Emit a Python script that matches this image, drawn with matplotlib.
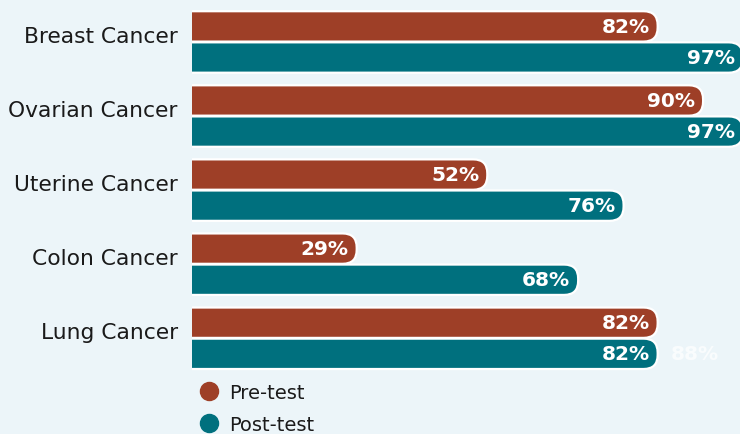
import matplotlib.pyplot as plt
from matplotlib.patches import FancyBboxPatch
from matplotlib.lines import Line2D

categories = ['Breast Cancer', 'Ovarian Cancer', 'Uterine Cancer', 'Colon Cancer', 'Lung Cancer']
pre_test = [82, 90, 52, 29, 82]
post_test = [97, 97, 76, 68, 82]
post_labels = ['97%', '97%', '76%', '68%', '82%']
ghost_label = '88%'

bg = '#ECF5F9'
c_pre = '#9E3F27'
c_post = '#00707E'

fig = plt.figure(figsize=(7.4, 4.35), dpi=100, facecolor=bg)
ax = fig.add_axes([0.2595, 1 - 380 / 435, 1 - 0.2595, 380 / 435])
ax.set_facecolor(bg)
ax.set_xlim(0, 96.5)
ax.set_ylim(4.55, -0.58)
for s in ax.spines.values():
    s.set_visible(False)
ax.set_xticks([])
ax.set_yticks([])

# aspect for the round ends (px per x unit / px per y unit)
p0 = ax.transData.transform((0, 0))
p1 = ax.transData.transform((1, 1))
aspect = abs(p1[0] - p0[0]) / abs(p1[1] - p0[1])
r = 14 / abs(p1[0] - p0[0])

h = 0.41
off = 0.21
for i, cat in enumerate(categories):
    for val, yc, col in [(pre_test[i], i - off, c_pre), (post_test[i], i + off, c_post)]:
        box = FancyBboxPatch((-10, yc - h / 2), val + 10, h,
                             boxstyle='round,pad=0,rounding_size=%f' % r,
                             mutation_aspect=aspect,
                             facecolor=col, edgecolor='white', linewidth=1.6)
        ax.add_patch(box)
    ax.text(pre_test[i] - 1.4, i - off, '%d%%' % pre_test[i], color='white', fontsize=14.5,
            fontweight='bold', ha='right', va='center')
    ax.text(post_test[i] - 1.4, i + off, post_labels[i], color='white', fontsize=14.5,
            fontweight='bold', ha='right', va='center')
    ax.text(-2.5, i - 0.08, cat, fontsize=15.7, color='#1a1a1a', ha='right', va='center',
            clip_on=False)

ax.text(post_test[4] + 2.3, 4 + off, ghost_label, color='white', fontsize=14.5,
        fontweight='bold', ha='left', va='center', alpha=0.7)

handles = [Line2D([], [], marker='o', linestyle='', markersize=13, color=c_pre),
           Line2D([], [], marker='o', linestyle='', markersize=13, color=c_post)]
fig.legend(handles, ['Pre-test', 'Post-test'], loc='upper left',
           bbox_to_anchor=(182 / 740, 1 - 376 / 435), frameon=False,
           fontsize=14, labelspacing=0.66, handletextpad=0.0, borderaxespad=0,
           labelcolor='#1a1a1a')

fig.savefig('out.png', dpi=100, facecolor=bg)
